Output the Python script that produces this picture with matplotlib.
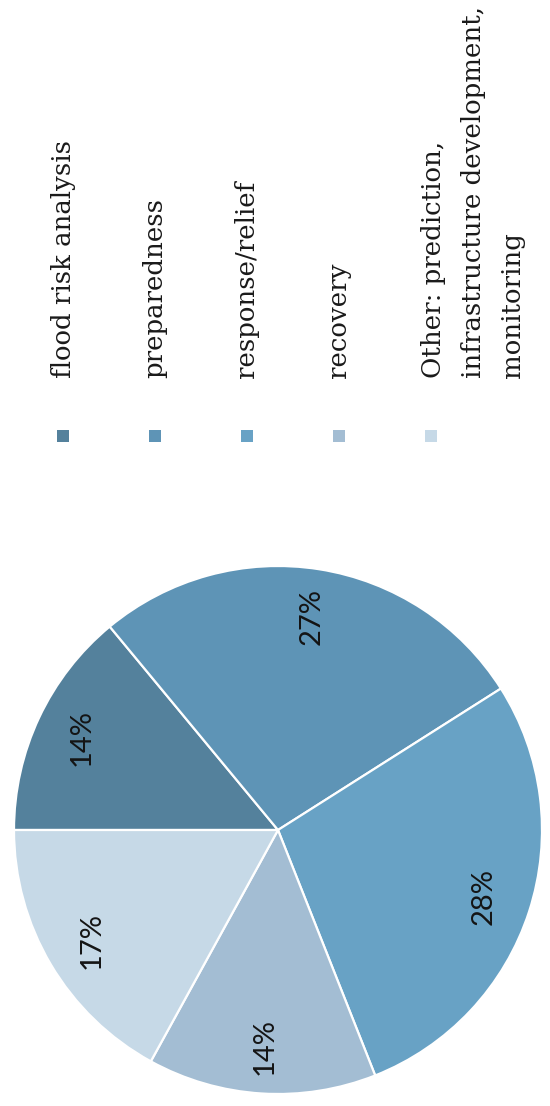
import matplotlib.pyplot as plt

# Datos del gráfico
categorias = [
    "flood risk analysis",
    "preparedness",
    "response/relief",
    "recovery",
    "Other: prediction,\ninfrastructure development,\nmonitoring",
]
porcentajes = [14, 27, 28, 14, 17]
colores = ["#54819c", "#5e94b6", "#68a2c5", "#a3bdd3", "#c6d9e7"]

W, H = 550, 1106

fig = plt.figure(figsize=(W / 100, H / 100), dpi=100)
ax = fig.add_axes([0, 0, 1, 1])

# Pie rotado 90 grados (la imagen original está girada)
wedges, _, autotexts = ax.pie(
    porcentajes,
    colors=colores,
    startangle=180,
    counterclock=False,
    radius=264,
    center=(278, H - 830),
    autopct="%d%%",
    pctdistance=0.82,
    wedgeprops=dict(edgecolor="white", linewidth=1.6),
    textprops=dict(family="Lato", fontsize=21, color="#141414"),
)
for t in autotexts:
    t.set_rotation(90)
    t.set_rotation_mode("anchor")
    t.set_ha("center")
    t.set_va("center")

# Leyenda manual con texto vertical
for i, (cat, col) in enumerate(zip(categorias, colores)):
    x = 63 + 92 * i
    ax.scatter([x], [H - 436], marker="s", s=80, color=col, linewidths=0)
    tx = 473 if "\n" in cat else x
    ax.text(tx, H - 378, cat, rotation=90, rotation_mode="anchor",
            ha="left", va="center", multialignment="left",
            family="DejaVu Serif", fontsize=18.7, linespacing=1.72,
            color="#1a1a1a")

ax.set_xlim(0, W)
ax.set_ylim(0, H)
ax.set_aspect("equal")
ax.axis("off")

fig.savefig("out.png", dpi=100)
